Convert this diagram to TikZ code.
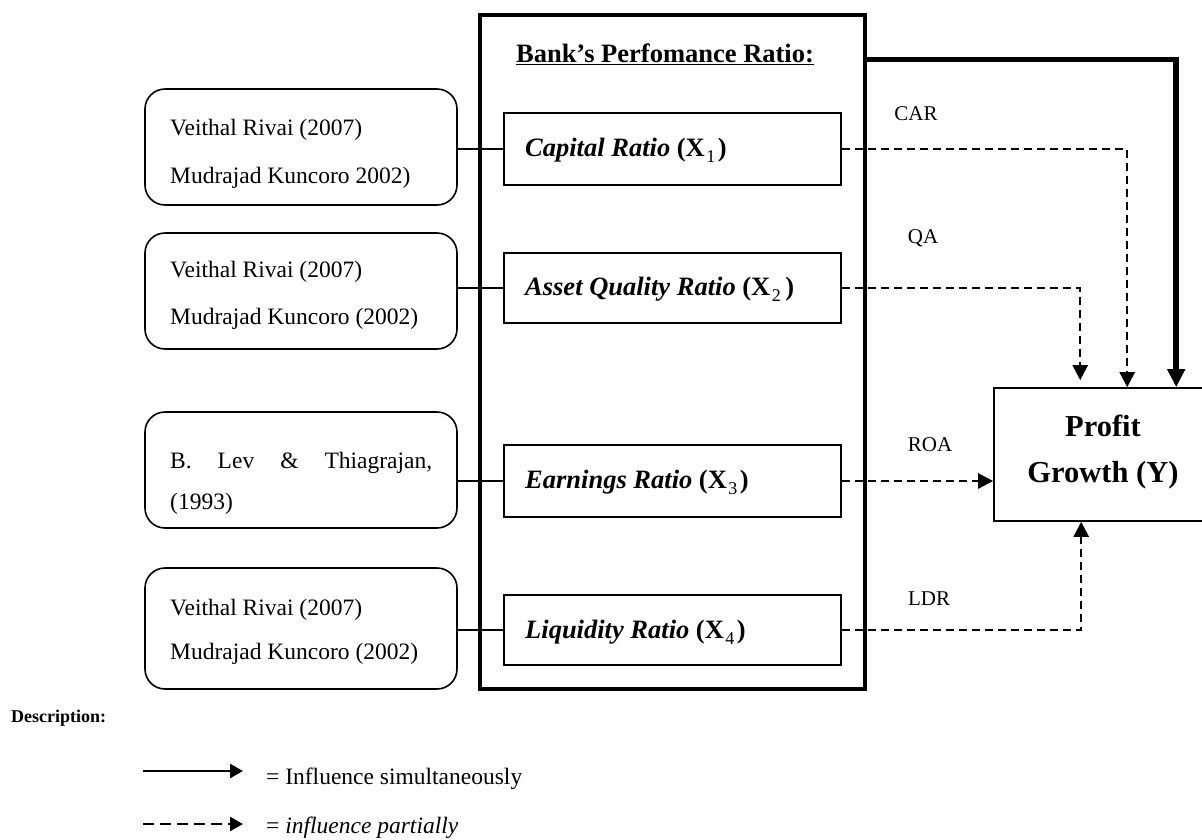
\documentclass[tikz,border=0pt]{standalone}
\usepackage{fontspec}
\setmainfont{Liberation Serif}
\usetikzlibrary{arrows.meta,calc}
\newcommand\fsRef{\fontsize{23.5}{48}\selectfont}
\newcommand\fsRatio{\fontsize{26.5}{30}\selectfont}
\newcommand\fsLab{\fontsize{21}{24}\selectfont}
\newcommand\fsPG{\fontsize{30.5}{46}\selectfont}
\newcommand\fsDesc{\fontsize{18}{20}\selectfont}
\newcommand\subx[1]{\kern1.5pt\raisebox{-6pt}{\mdseries\fontsize{18}{18}\selectfont #1}\kern2.5pt}
\begin{document}
\begin{tikzpicture}[x=1pt,y=-1pt,
  refbox/.style={draw, line width=1.6pt, rounded corners=20pt, minimum width=312pt, inner sep=0pt},
  ratiobox/.style={draw, line width=1.6pt, minimum width=337pt, inner sep=0pt},
  reftext/.style={anchor=west, inner sep=0pt, align=left, font=\fsRef},
  ratiotext/.style={anchor=west, inner sep=0pt, font=\fsRatio},
  lab/.style={inner sep=0pt, font=\fsLab},
  link/.style={line width=1.8pt},
  partial/.style={line width=2.4pt, dash pattern=on 8pt off 5pt, -{Triangle[length=15pt,width=15pt]}},
  simul/.style={line width=5.5pt, -{Triangle[length=18pt,width=17pt]}},
  legsolid/.style={line width=2.4pt, -{Triangle[length=13pt,width=14pt]}},
  legdash/.style={line width=2.4pt, dash pattern=on 11pt off 6pt, -{Triangle[length=13pt,width=14pt]}},
]
\useasboundingbox (0,0) rectangle (1202,839);
\clip (0,0) rectangle (1202,839);

% big frame
\node[draw, line width=3.5pt, minimum width=385pt, minimum height=674pt, inner sep=0pt] (big) at (672.5,352) {};
\node[inner sep=0pt, anchor=base, font=\fsRatio\bfseries] (title) at (665,62) {\underline{Bank’s Perfomance Ratio:}};

% reference boxes
\node[refbox, minimum height=116pt] (b1) at (301,147) {};
\node[refbox, minimum height=116pt] (b2) at (301,291) {};
\node[refbox, minimum height=116pt] (b3) at (301,470) {};
\node[refbox, minimum height=121pt] (b4) at (301,628.5) {};

\node[reftext] (t1a) at (170,130) {Veithal Rivai (2007)};
\node[reftext] (t1b) at (170,178) {Mudrajad Kuncoro 2002)};
\node[reftext] (t2a) at (170,272) {Veithal Rivai (2007)};
\node[reftext] (t2b) at (170,319) {Mudrajad Kuncoro (2002)};
\node[reftext] (t3a) at (170,463) {\makebox[262pt][s]{B. Lev \& Thiagrajan,}};
\node[reftext] (t3b) at (170,504) {(1993)};
\node[reftext] (t4a) at (170,610) {Veithal Rivai (2007)};
\node[reftext] (t4b) at (170,654) {Mudrajad Kuncoro (2002)};

% ratio boxes
\node[ratiobox, minimum height=72pt] (r1) at (672.5,149) {};
\node[ratiobox, minimum height=70pt] (r2) at (672.5,288) {};
\node[ratiobox, minimum height=72pt] (r3) at (672.5,481) {};
\node[ratiobox, minimum height=70pt] (r4) at (672.5,630) {};

\node[ratiotext] (x1) at (525,150) {\bfseries\itshape Capital Ratio \upshape(X\subx{1})};
\node[ratiotext] (x2) at (525,289) {\bfseries\itshape Asset Quality Ratio \upshape(X\subx{2}\kern2pt)};
\node[ratiotext] (x3) at (525,482) {\bfseries\itshape Earnings Ratio \upshape(X\subx{3})};
\node[ratiotext] (x4) at (525,632) {\bfseries\itshape Liquidity Ratio \upshape(X\subx{4})};

% links
\draw[link] (b1.east |- r1.west) -- (r1.west);
\draw[link] (b2.east |- r2.west) -- (r2.west);
\draw[link] (b3.east |- r3.west) -- (r3.west);
\draw[link] (b4.east |- r4.west) -- (r4.west);

% profit growth
\node[draw, line width=1.6pt, minimum width=218pt, minimum height=133pt, inner sep=0pt] (pg) at (1103,454.5) {};
\node[inner sep=0pt, align=center, font=\fsPG\bfseries] (pgt) at (1103,452) {Profit\\Growth (Y)};

% labels
\node[lab] (car) at (916,114) {CAR};
\node[lab] (qa) at (923,238) {QA};
\node[lab] (roa) at (930,445) {ROA};
\node[lab] (ldr) at (929,599) {LDR};

% connectors
\draw[simul] ($(big.north east)+(0,46)$) -| ($(pg.north west)+(183,0)$);
\draw[partial] (r1.east) -| ($(pg.north west)+(134,0)$);
\draw[partial] (r2.east) -| ($(pg.north west)+(87,-7)$);
\draw[partial] (r3.east) -- (r3.east -| pg.west);
\draw[partial] (r4.east) -| ($(pg.south west)+(88,0)$);

% legend
\node[anchor=west, inner sep=0pt, font=\fsDesc\bfseries] (desc) at (11,718) {Description:};
\coordinate (ls1) at (143,771);
\coordinate (ls2) at (243,771);
\coordinate (ld1) at (143,824);
\coordinate (ld2) at (243,824);
\draw[legsolid] (ls1) -- (ls2);
\draw[legdash] (ld1) -- (ld2);
\node[anchor=west, inner sep=0pt, font=\fsRef] (lt1) at (266,779) {= Influence simultaneously};
\node[anchor=west, inner sep=0pt, font=\fsRef] (lt2) at (266,828) {= \textit{influence partially}};
\end{tikzpicture}
\end{document}
